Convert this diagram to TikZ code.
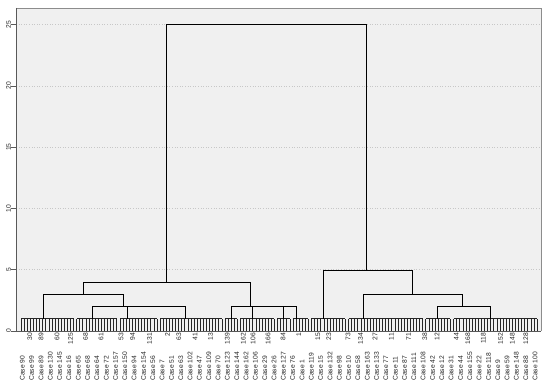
\documentclass[tikz,border=0pt]{standalone}
\usepackage{fontspec}
\setmainfont{Liberation Sans}
\begin{document}
\begin{tikzpicture}[x=1pt,y=-1pt,
  dend/.style={line width=0.75pt, draw=black},
  leaf/.style={line width=0.6pt, draw=black!85},
  gridln/.style={line width=0.7pt, draw=black!22, dash pattern=on 1pt off 1.6pt},
  lab/.style={font=\fontsize{6.7}{7}\selectfont, text=black!85, inner sep=0pt, rotate=90},
  tick/.style={line width=0.8pt, draw=black!65},
]
\useasboundingbox (0,0) rectangle (550,387);
\fill[white] (0,0) rectangle (550,387);
\fill[black!6] (16,8) rectangle (541,331);
% grid
\foreach \h in {5,10,15,20,25}
  \draw[gridln] (16,{331-12.25*\h}) -- (541,{331-12.25*\h});
% frame
\draw[line width=0.8pt, draw=black!45] (16,8) -- (541,8) -- (541,331);
\draw[line width=0.8pt, draw=black!65] (16,8) -- (16,331) -- (541,331);
% y ticks and labels
\foreach \h in {0,5,10,15,20,25} {
  \draw[tick] (10.5,{331-12.25*\h}) -- (16,{331-12.25*\h});
  \node[lab] (y\h) at (8.5,{331-12.25*\h}) {\h};
}
% leaves
\foreach \i in {0,...,167}
  \draw[leaf] ({21+\i*3.0898},331) -- ({21+\i*3.0898},318.7);
% leaf group bars
\foreach \a/\b in {0/17,18/31,32/44,45/65,66/70,71/82,83/87,88/93,94/105,106/130,131/139,140/167}
  \draw[leaf] ({21+\a*3.0898},318.7) -- ({21+\b*3.0898},318.7);
% left cluster
\draw[dend] (92,318.7) -- (92,306) -- (185,306) -- (185,318.7);
\draw[dend] (127,318.7) -- (127,306);
\draw[dend] (43,318.7) -- (43,294.3) -- (123,294.3) -- (123,306);
\draw[dend] (231,318.7) -- (231,306) -- (296,306) -- (296,318.7);
\draw[dend] (252,318.7) -- (252,306);
\draw[dend] (283,318.7) -- (283,306);
\draw[dend] (83,294.3) -- (83,282.3) -- (250,282.3) -- (250,306);
% root
\draw[dend] (166,282.3) -- (166,24.7) -- (366.7,24.7) -- (366.7,270);
% right cluster
\draw[dend] (323.3,318.7) -- (323.3,270) -- (412.7,270) -- (412.7,294.3);
\draw[dend] (363.3,318.7) -- (363.3,294.3) -- (462.3,294.3) -- (462.3,306);
\draw[dend] (437.3,318.7) -- (437.3,306) -- (490,306) -- (490,318.7);
% number row
\foreach \n/\xx [count=\k] in {30/29.7,89/41,60/57,125/70.5,68/85.5,61/101,53/121,94/132.5,131/149.5,2/167.5,63/178.7,41/195,13/210.5,139/227.3,162/243.2,106/253,166/268,84/283,1/298.8,15/317.8,23/328.7,73/348,134/360.5,27/375,11/391.3,71/408.5,38/424.7,12/437,44/456.3,168/467.8,118/483.3,152/500.5,148/512.2,128/525.8}
  \node[lab, anchor=east] (n\k) at (\xx,333) {\n};
% case row
\foreach \n [count=\k from 0] in {90,99,89,130,145,16,65,68,64,72,157,150,94,154,56,7,51,63,102,47,109,70,123,144,162,106,29,26,127,76,1,119,15,132,98,10,58,163,133,77,11,87,111,108,42,12,31,44,155,22,118,9,59,148,88,100}
  \node[lab, anchor=west] (c\k) at ({22.3+\k*9.323},381) {Case \n};
\end{tikzpicture}
\end{document}
